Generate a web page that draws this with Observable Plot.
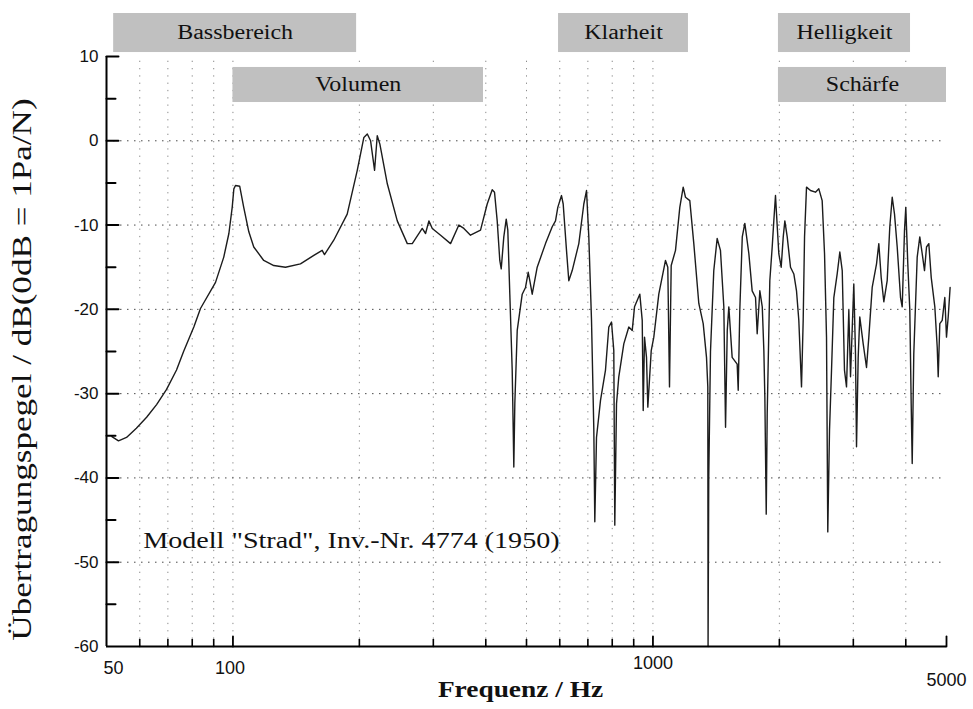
<!DOCTYPE html>
<html><head><meta charset="utf-8">
<script src="https://cdn.jsdelivr.net/npm/d3@7"></script>
<script src="https://cdn.jsdelivr.net/npm/@observablehq/plot@0.6"></script>
<style>body{margin:0;background:#fff}</style>
</head><body><div id="chart"></div>
<script>
// Frequency response (Hz, dB)
const freq = [51.5,53.4,55.8,58.9,62.3,65.8,69.5,73.4,76.3,80.7,83.7,90.9,95.1,97.8,99.6,100.5,101.4,103.8,106.1,109.1,112.1,118.4,125.1,133.4,144.8,155.8,163.1,165.2,173.8,187.1,197.7,205.0,208.9,212.7,217.4,220.6,223.8,233.1,246.2,260.1,267.3,282.3,287.5,292.8,298.3,312.2,329.7,345.1,354.7,367.8,388.6,403.1,414.3,419.6,425.8,431.9,435.3,441.5,447.4,451.3,456.3,462.3,464.9,466.4,469.0,475.2,488.4,497.3,504.7,509.2,515.9,530.2,554.9,575.7,586.2,593.6,605.8,611.4,622.6,630.5,642.4,666.1,684.6,694.8,703.6,714.1,723.2,727.1,733.9,750.2,771.0,785.1,796.8,806.9,811.3,819.0,829.3,852.4,876.1,892.7,904.0,930.6,943.0,948.1,954.9,965.4,972.4,990.7,1004.8,1032.7,1071.3,1084.9,1095.1,1105.3,1131.7,1158.7,1180.5,1195.5,1224.0,1251.2,1286.0,1317.3,1341.4,1351.0,1353,1358,1371,1396,1422,1448,1475,1489,1503,1516,1544,1587,1596,1610,1632,1655,1692,1723,1755,1771,1797,1821,1837,1847,1861,1871,1898,1923,1940,1958,1977,1994,2020,2043,2061,2088,2126,2165,2197,2225,2258,2279,2296,2321,2372,2438,2483,2529,2562,2590,2608,2633,2662,2696,2746,2786,2823,2858,2890,2927,2954,3008,3036,3053,3081,3108,3167,3225,3266,3327,3407,3450,3495,3546,3612,3664,3713,3760,3816,3886,3922,3972,4000,4044,4089,4120,4143,4179,4258,4319,4377,4432,4481,4538,4598,4690,4752,4778,4820,4884,4954,5000,5047,5100];
const level = [-35.1,-35.6,-35.2,-34.1,-32.8,-31.3,-29.5,-27.2,-25.0,-22.1,-19.9,-16.8,-13.8,-11.0,-7.9,-5.7,-5.3,-5.4,-7.9,-10.8,-12.6,-14.2,-14.8,-15.0,-14.6,-13.6,-13.0,-13.5,-11.8,-8.7,-3.5,0.4,0.8,0.0,-3.5,0.6,-0.4,-5.1,-9.5,-12.2,-12.2,-10.4,-11.0,-9.5,-10.4,-11.2,-12.2,-10.0,-10.4,-11.2,-10.6,-7.5,-5.8,-6.1,-9.5,-14.2,-15.2,-11.4,-9.3,-10.6,-18.2,-27.2,-34.3,-38.7,-31.2,-22.5,-18.2,-17.4,-15.6,-16.6,-18.2,-15.0,-12.2,-10.2,-9.5,-7.9,-6.5,-7.5,-13.0,-16.6,-15.4,-12.2,-7.5,-5.9,-11.4,-21.3,-34.3,-45.2,-35.2,-30.8,-27.2,-22.1,-21.5,-24.9,-45.6,-31.2,-28.0,-24.1,-22.1,-22.5,-19.7,-18.2,-21.3,-32.0,-23.3,-25.7,-31.6,-24.9,-23.3,-18.2,-14.2,-15.0,-29.2,-14.8,-13.0,-7.9,-5.5,-6.7,-7.1,-12.2,-19.3,-21.7,-25.7,-29.2,-60,-40,-25,-15.4,-11.6,-13.0,-19.7,-34.0,-22.5,-19.7,-25.7,-26.5,-29.6,-20.1,-11.4,-9.8,-13.4,-17.8,-18.6,-22.9,-17.8,-19.7,-24.9,-30.4,-44.3,-32.4,-16.6,-12.6,-9.5,-6.5,-10.2,-13.4,-15.0,-11.4,-9.5,-11.4,-15.0,-15.8,-17.8,-21.3,-29.2,-21.3,-11.4,-5.5,-5.9,-6.1,-5.7,-7.1,-13.4,-23.3,-46.4,-34.3,-27.2,-18.6,-15.8,-13.2,-15.4,-27.2,-29.2,-20.1,-28.0,-17.0,-25.3,-36.3,-25.7,-20.9,-24.1,-26.9,-23.3,-17.4,-14.6,-12.2,-16.2,-19.1,-16.6,-10.2,-6.7,-8.7,-12.6,-18.6,-19.7,-10.6,-7.9,-14.6,-20.1,-31.2,-38.3,-25.3,-13.8,-11.4,-13.4,-15.4,-12.6,-12.2,-16.2,-19.7,-24.5,-28.0,-21.7,-21.3,-18.6,-23.3,-20.9,-17.4];

// Frequency bands
const bandLabels = ["Bassbereich", "Volumen", "Klarheit", "Helligkeit", "Schärfe"];
const bandFrom = [52, 100, 596, 1990, 1990];
const bandTo = [197, 395, 1215, 4105, 5000];
const bandRow = [0, 1, 0, 0, 1];

// Axes
const xTickLabels = [50, 100, 1000, 5000];
const yTickLabels = [10, 0, -10, -20, -30, -40, -50, -60];
const xGrid = [60, 70, 80, 90, 100, 200, 300, 400, 500, 600, 700, 800, 900, 1000, 2000, 3000, 4000];
const yGrid = [0, -10, -20, -30, -40, -50];
const xMinorTicks = [60, 70, 80, 90, 200, 300, 400, 500, 600, 700, 800, 900, 2000, 3000, 4000];
const xMajorTicks = [100, 1000, 5000];
const yMajorTicks = [10, 0, -10, -20, -30, -40, -50];
const yMinorTicks = [5, -5, -15, -25, -35, -45, -55];

const xTitle = "Frequenz / Hz";
const yTitle = "Übertragungspegel / dB(0dB = 1Pa/N)";
const note = 'Modell "Strad", Inv.-Nr. 4774 (1950)';

const curve = freq.map((f, i) => ({f, v: level[i]}));
const bands = bandLabels.map((label, i) => ({label, from: bandFrom[i], to: bandTo[i], row: bandRow[i]}));
const rowTop = [15.1, 8.7], rowBottom = [10.47, 4.54];

const tickLine = {draw(ctx, l) { ctx.moveTo(0, 0); ctx.lineTo(0, -l); }};
const serif = "Liberation Serif, Times New Roman, serif";
const sans = "Liberation Sans, Arial, sans-serif";
const xl = (vals, dx, dy) => Plot.text(xTickLabels.filter(v => vals.includes(v)), {x: d => d, y: -60, text: d => String(d), dx, dy,
  fontFamily: sans, fontSize: 18, fill: "#111"});

const chart = Plot.plot({
  width: 973, height: 709,
  marginLeft: 106, marginRight: 27, marginTop: 56, marginBottom: 63,
  x: {type: "log", domain: [50, 5000], axis: null},
  y: {domain: [-60, 10], axis: null},
  style: {background: "#fff", overflow: "visible"},
  marks: [
    Plot.ruleX(xGrid, {y1: -60, y2: 10, stroke: "#8c8c8c", strokeDasharray: "1.3,6"}),
    Plot.ruleY(yGrid, {x1: 50, x2: 5000, stroke: "#4a4a4a", strokeDasharray: "1.5,5.5"}),
    Plot.rect(bands, {x1: "from", x2: "to", y1: d => rowBottom[d.row], y2: d => rowTop[d.row], fill: "#c0c0c0"}),
    Plot.text(bands, {x: d => Math.sqrt(d.from * d.to), y: d => (rowTop[d.row] + rowBottom[d.row]) / 2, text: "label",
      fontFamily: serif, fontSize: 20, fill: "#111"}),
    Plot.line(curve, {x: "f", y: "v", stroke: "#1c1c1c", strokeWidth: 1.4}),
    Plot.ruleX([50], {y1: -60, y2: 10, stroke: "#000", strokeWidth: 2}),
    Plot.ruleY([-60], {x1: 50, x2: 5000, stroke: "#000", strokeWidth: 2}),
    Plot.vector(yMajorTicks, {x: 50, y: d => d, rotate: 90, length: 12, anchor: "start", shape: tickLine, stroke: "#000", strokeWidth: 2}),
    Plot.vector(yMinorTicks, {x: 50, y: d => d, rotate: 90, length: 9, anchor: "start", shape: tickLine, stroke: "#000", strokeWidth: 2}),
    Plot.vector(xMinorTicks, {x: d => d, y: -60, rotate: 0, length: 7, anchor: "start", shape: tickLine, stroke: "#000", strokeWidth: 1.6}),
    Plot.vector(xMajorTicks, {x: d => d, y: -60, rotate: 0, length: 10, anchor: "start", shape: tickLine, stroke: "#000", strokeWidth: 1.8}),
    Plot.text(yTickLabels, {x: 50, y: d => d, text: d => String(d), textAnchor: "end", dx: -8,
      fontFamily: sans, fontSize: 17, fill: "#111"}),
    xl([50], 7, 22),
    xl([100], -3, 22),
    xl([1000], 0, 17),
    xl([5000], 0, 34),
    Plot.text([xTitle], {frameAnchor: "bottom", dx: -6, dy: 50, text: d => d, fontFamily: serif, fontSize: 24,
      fontWeight: "bold", fill: "#111"}),
    Plot.text([yTitle], {frameAnchor: "left", textAnchor: "middle", dx: -84, dy: 18, rotate: -90, text: d => d,
      fontFamily: serif, fontSize: 27, fill: "#111"}),
    Plot.text([note], {x: 61.2, y: -47.4, text: d => d, textAnchor: "start", fontFamily: serif, fontSize: 23, fill: "#111"})
  ]
});

document.getElementById("chart").append(chart);
// the printed serif faces are wider than Times: widen the glyphs
const widen = new Map([...bandLabels.map(l => [l, 1.2]), [note, 1.22], [yTitle, 1.3], [xTitle, 1.14]]);
chart.querySelectorAll("text").forEach(t => {
  const k = widen.get(t.textContent);
  if (k) {
    const w = t.getComputedTextLength();
    t.setAttribute("textLength", (w * k).toFixed(1));
    t.setAttribute("lengthAdjust", "spacingAndGlyphs");
  } else if (yTickLabels.map(String).includes(t.textContent) && t.getAttribute("text-anchor") === "end") {
    t.setAttribute("letter-spacing", "0.12em");
  }
});
</script>
</body></html>
